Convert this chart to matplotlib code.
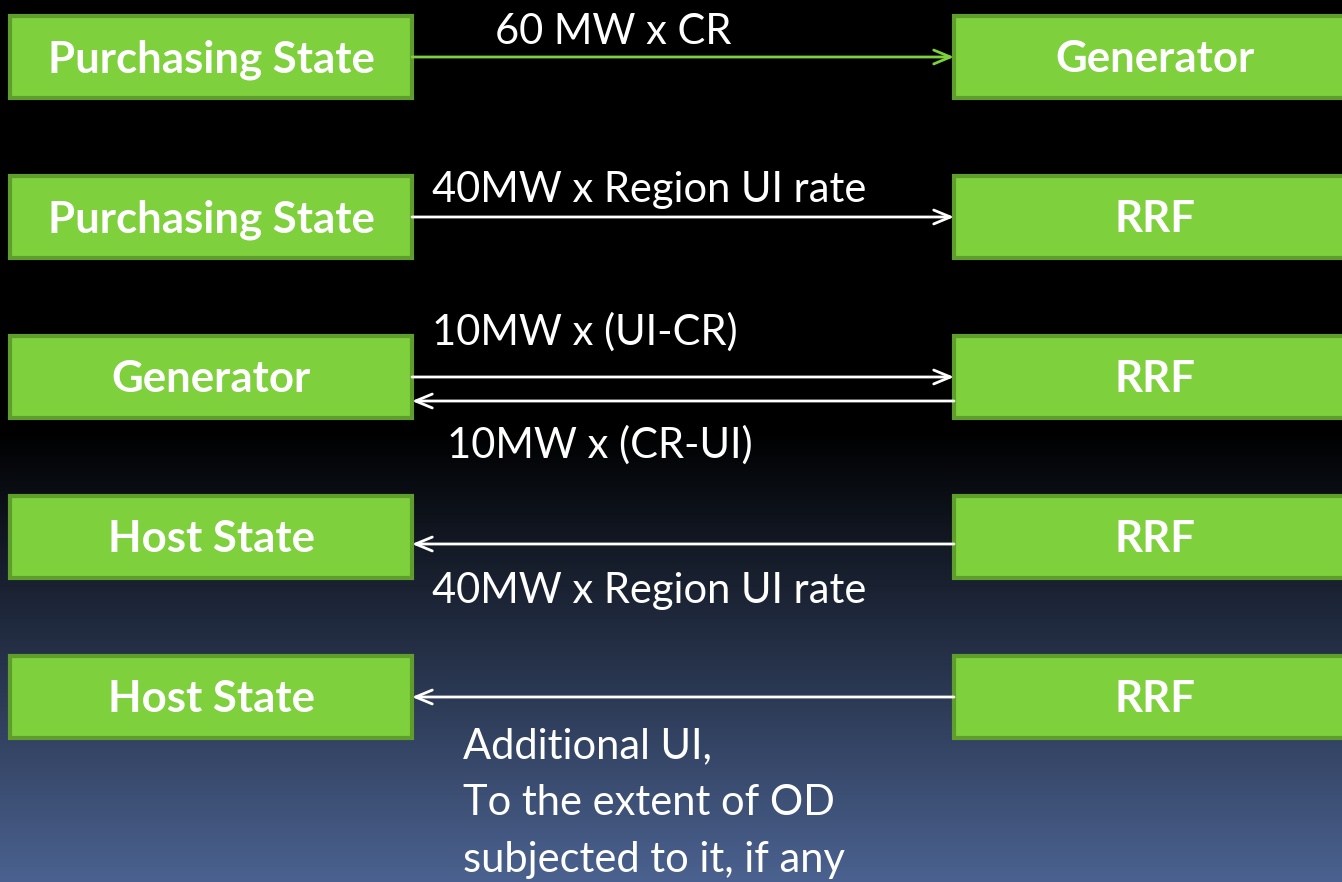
import numpy as np
import matplotlib.pyplot as plt
from matplotlib.patches import Rectangle

# diagram content
left_boxes = ['Purchasing State', 'Purchasing State', 'Generator', 'Host State', 'Host State']
right_boxes = ['Generator', 'RRF', 'RRF', 'RRF', 'RRF']
row_tops = [16, 176, 336, 496, 656]

# arrows: (y, direction, colour)  direction +1 = left->right
arrows = [(57, 1, '#7ed03c'), (217, 1, 'white'), (377, 1, 'white'),
          (401, -1, 'white'), (544, -1, 'white'), (697, -1, 'white')]

# arrow labels: (x, baseline y, text)
arrow_labels = [
    (495, 44, '60 MW x CR'),
    (432, 202, '40MW x Region UI rate'),
    (432, 345, '10MW x (UI-CR)'),
    (447, 458, '10MW x (CR-UI)'),
    (432, 603, '40MW x Region UI rate'),
    (463, 758, 'Additional UI,'),
    (463, 815, 'To the extent of OD'),
    (463, 872, 'subjected to it, if any'),
]

W, H = 1342, 882
BOX_FILL = '#7ed03c'
BOX_EDGE = '#5f9e2c'

fig = plt.figure(figsize=(W / 100, H / 100), dpi=100)
ax = fig.add_axes([0, 0, 1, 1])
ax.set_xlim(0, W)
ax.set_ylim(H, 0)
ax.axis('off')

# background: black top, fading to slate blue at bottom
ys = np.arange(H)
t = np.clip((ys - 430) / (H - 430), 0, 1)
top = np.array([0, 0, 0]) / 255
bot = np.array([75, 98, 144]) / 255
grad = top[None, :] * (1 - t[:, None]) + bot[None, :] * t[:, None]
img = np.repeat(grad[:, None, :], 2, axis=1)
ax.imshow(img, extent=[0, W, H, 0], aspect='auto', zorder=0)

for i, y0 in enumerate(row_tops):
    ax.add_patch(Rectangle((10, y0), 402, 82, facecolor=BOX_FILL,
                           edgecolor=BOX_EDGE, linewidth=3, zorder=2))
    ax.add_patch(Rectangle((954, y0), 402, 82, facecolor=BOX_FILL,
                           edgecolor=BOX_EDGE, linewidth=3, zorder=2))
    ax.text(211, y0 + 56, left_boxes[i], color='white', fontsize=31.5,
            fontweight='bold', family='Lato', ha='center', va='baseline', zorder=3)
    ax.text(1155, y0 + 56, right_boxes[i], color='white', fontsize=31.5,
            fontweight='bold', family='Lato', ha='center', va='baseline', zorder=3)

for y, d, c in arrows:
    x0, x1 = (412, 954) if d > 0 else (954, 412)
    ax.annotate('', xy=(x1, y), xytext=(x0, y),
                arrowprops=dict(arrowstyle='->,head_length=1.2,head_width=0.5',
                                color=c, lw=2, shrinkA=0, shrinkB=0), zorder=3)

for x, y, s in arrow_labels:
    ax.text(x, y, s, color='white', fontsize=30, family='Lato',
            ha='left', va='baseline', zorder=3)

fig.savefig('out.png', dpi=100)
